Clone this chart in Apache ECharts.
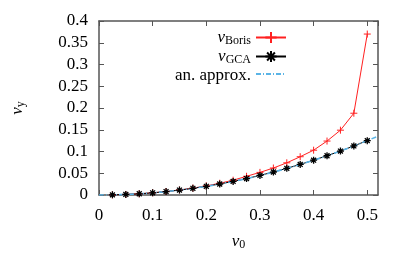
<!DOCTYPE html>
<html><head><meta charset="utf-8">
<script src="https://cdn.jsdelivr.net/npm/echarts@6/dist/echarts.min.js"></script>
<style>html,body{margin:0;padding:0;background:#fff}#c{width:415px;height:260px}</style>
</head><body><div id="c"></div>
<script>
const v0 = [0.025,0.05,0.075,0.1,0.125,0.15,0.175,0.2,0.225,0.25,0.275,0.3,0.325,0.35,0.375,0.4,0.425,0.45,0.475,0.5];
const vyGCA = [0.0003,0.0013,0.0028,0.005,0.0078,0.0113,0.0153,0.02,0.0253,0.0313,0.0378,0.045,0.0528,0.0613,0.0703,0.08,0.0903,0.101,0.1128,0.125];
const vyBoris = [0.0003,0.0013,0.0028,0.005,0.008,0.0115,0.0158,0.021,0.027,0.034,0.043,0.052,0.062,0.074,0.088,0.103,0.124,0.149,0.188,0.37];
const approxX = [0,0.04,0.08,0.12,0.16,0.2,0.24,0.28,0.32,0.36,0.4,0.44,0.48,0.52];
const approxY = [0,0.0008,0.0032,0.0072,0.0128,0.02,0.0288,0.0392,0.0512,0.0648,0.08,0.0968,0.1152,0.1352];
const names = ['Boris','GCA','an. approx.'];

const F = 'Liberation Serif';
const axisCol = '#555';
const chart = echarts.init(document.getElementById('c'));
const pair = (xs, ys) => xs.map((x, i) => [x, ys[i]]);
const rich = {
  v: {fontFamily: F, fontStyle: 'italic', fontSize: 17, color: '#000'},
  s: {fontFamily: F, fontSize: 12, color: '#000', padding: [7, 0, 0, 0]},
  t: {fontFamily: F, fontSize: 17, color: '#000', padding: [3, 0, 0, 0]}
};
const frameAxis = (extra) => Object.assign({
  type: 'value',
  axisLine: {show: true, onZero: false, lineStyle: {color: axisCol, width: 1.5}},
  axisTick: {show: true, inside: true, length: 5, lineStyle: {color: axisCol, width: 1}},
  splitLine: {show: false}
}, extra);

chart.setOption({
  animation: false,
  grid: {left: 99, right: 37, top: 21, bottom: 65},
  legend: {
    orient: 'vertical', right: 123, top: 24, align: 'right',
    itemWidth: 30, itemHeight: 14, itemGap: 1,
    data: [
      {name: 'Boris'},
      {name: 'GCA'},
      {name: 'an. approx.', itemStyle: {opacity: 0}}
    ],
    textStyle: {fontFamily: F, fontSize: 17, color: '#000', rich: rich},
    formatter: n => n === 'an. approx.' ? '{t|an. approx.}' : '{v|v}{s|' + n + '}'
  },
  xAxis: [
    frameAxis({min: 0, max: 0.52, interval: 0.1, position: 'bottom',
      axisLabel: {fontFamily: F, fontSize: 17, color: '#000', margin: 12, showMaxLabel: false},
      name: '{v|v}{s|0}', nameLocation: 'middle', nameGap: 37,
      nameTextStyle: {rich: rich}}),
    frameAxis({min: 0, max: 0.52, interval: 0.1, position: 'top', axisLabel: {show: false}})
  ],
  yAxis: [
    frameAxis({min: 0, max: 0.4, interval: 0.05, position: 'left',
      axisLabel: {fontFamily: F, fontSize: 17, color: '#000', margin: 11},
      name: '{v|v}{s|y}', nameLocation: 'middle', nameGap: 72,
      nameTextStyle: {rich: rich}}),
    frameAxis({min: 0, max: 0.4, interval: 0.05, position: 'right', axisLabel: {show: false}})
  ],
  series: [
    {name: 'Boris', type: 'line', data: pair(v0, vyBoris),
      lineStyle: {color: '#ff2020', width: 1}, color: '#ff2020',
      symbol: 'path://M5,0L5,10M0,5L10,5', symbolSize: 7,
      itemStyle: {color: '#ff2020', borderColor: '#ff2020', borderWidth: 1}},
    {name: 'GCA', type: 'line', data: pair(v0, vyGCA),
      lineStyle: {color: '#000', width: 1}, color: '#000',
      symbol: 'path://M5,0L5,10M0,5L10,5M1.5,1.5L8.5,8.5M8.5,1.5L1.5,8.5', symbolSize: 7,
      itemStyle: {color: '#000', borderColor: '#000', borderWidth: 1.3}},
    {name: 'an. approx.', type: 'line', data: pair(approxX, approxY), smooth: true,
      showSymbol: false, symbol: 'none', color: '#5ab4e6',
      lineStyle: {color: '#5ab4e6', width: 1.6, type: [5, 2, 1, 2]}}
  ]
});
</script></body></html>
